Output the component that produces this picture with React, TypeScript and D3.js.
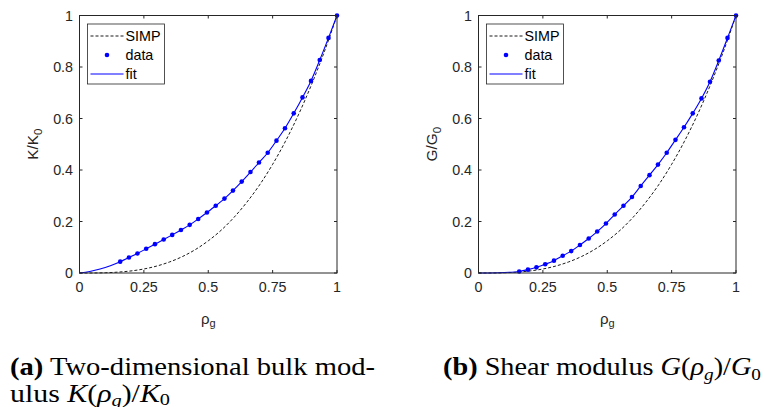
import React from 'react';
import * as d3 from 'd3';

// ---- data ----
const rhoData = [0.158, 0.192, 0.225, 0.259, 0.293, 0.327, 0.360, 0.394, 0.428, 0.461, 0.495, 0.529, 0.563,
  0.596, 0.630, 0.664, 0.697, 0.731, 0.765, 0.798, 0.832, 0.866, 0.899, 0.933, 0.967, 1.000];
const kData = [0.044, 0.060, 0.076, 0.094, 0.112, 0.130, 0.148, 0.167, 0.187, 0.210, 0.235, 0.261, 0.289,
  0.320, 0.355, 0.392, 0.429, 0.467, 0.514, 0.562, 0.620, 0.682, 0.746, 0.827, 0.913, 1.000];
const gData = [0.006, 0.013, 0.022, 0.034, 0.048, 0.067, 0.085, 0.109, 0.134, 0.161, 0.192, 0.227, 0.261,
  0.295, 0.338, 0.380, 0.421, 0.467, 0.517, 0.566, 0.620, 0.678, 0.743, 0.825, 0.913, 1.000];
const fitRhoHead = [0, 0.04, 0.08, 0.12];
const kFitHead = [0, 0.0060, 0.0155, 0.0285];
const gFitHead = [0, 0.0001, 0.0008, 0.0027];
const simpRho = [0, 0.05, 0.1, 0.15, 0.2, 0.25, 0.3, 0.35, 0.4, 0.45, 0.5, 0.55, 0.6, 0.65, 0.7, 0.75, 0.8, 0.85, 0.9, 0.95, 1];
const simpVals = [0, 0.0001, 0.001, 0.0034, 0.008, 0.0156, 0.027, 0.043, 0.064, 0.091, 0.125, 0.166, 0.216,
  0.275, 0.343, 0.422, 0.512, 0.614, 0.729, 0.857, 1];
const xTicks = [0, 0.25, 0.5, 0.75, 1];
const xTickLabels = ['0', '0.25', '0.5', '0.75', '1'];
const yTicks = [0, 0.2, 0.4, 0.6, 0.8, 1];
const yTickLabels = ['0', '0.2', '0.4', '0.6', '0.8', '1'];
const legendLabels = ['SIMP', 'data', 'fit'];

const AX = '#262626';
const BLUE = '#0000ff';
const SANS = '"Liberation Sans", Arial, Helvetica, sans-serif';
const SERIF = '"Liberation Serif", "Times New Roman", serif';

type PanelProps = { left: number; yl: string; values: number[]; fitHead: number[] };

function Panel({ left, yl, values, fitHead }: PanelProps) {
  const top = 15.5, size = 257.5;
  const x = d3.scaleLinear().domain([0, 1]).range([left, left + size]);
  const y = d3.scaleLinear().domain([0, 1]).range([top + size, top]);
  const line = d3.line<[number, number]>().x(d => x(d[0])).y(d => y(d[1])).curve(d3.curveMonotoneX);
  const simpPts = simpRho.map((r, i) => [r, simpVals[i]] as [number, number]);
  const fitPts = [...fitRhoHead.map((r, i) => [r, fitHead[i]] as [number, number]),
    ...rhoData.map((r, i) => [r, values[i]] as [number, number])];
  const tl = 3;
  const lx = left + 8, ly = top + 8.5, lw = 77, lh = 60;
  const rows = [ly + 12, ly + 31, ly + 50];
  return (
    <g>
      <path d={line(simpPts) || ''} fill="none" stroke="#000" strokeWidth={0.9} strokeDasharray="3,2" />
      <path d={line(fitPts) || ''} fill="none" stroke={BLUE} strokeWidth={1.1} />
      {rhoData.map((r, i) => <circle key={i} cx={x(r)} cy={y(values[i])} r={2.3} fill={BLUE} />)}
      <rect x={left} y={top} width={size} height={size} fill="none" stroke={AX} strokeWidth={1} />
      {xTicks.map((t, i) => (
        <g key={'x' + i}>
          <line x1={x(t)} x2={x(t)} y1={top + size} y2={top + size - tl} stroke={AX} />
          <line x1={x(t)} x2={x(t)} y1={top} y2={top + tl} stroke={AX} />
          <text x={x(t)} y={top + size + 18.5} textAnchor="middle" fontSize={14.3} fill={AX} fontFamily={SANS}>{xTickLabels[i]}</text>
        </g>
      ))}
      {yTicks.map((t, i) => (
        <g key={'y' + i}>
          <line x1={left} x2={left + tl} y1={y(t)} y2={y(t)} stroke={AX} />
          <line x1={left + size} x2={left + size - tl} y1={y(t)} y2={y(t)} stroke={AX} />
          <text x={left - 6.5} y={y(t)} dy="0.36em" textAnchor="end" fontSize={14.3} fill={AX} fontFamily={SANS}>{yTickLabels[i]}</text>
        </g>
      ))}
      {/* legend */}
      <rect x={lx} y={ly} width={lw} height={lh} fill="#fff" stroke={AX} strokeWidth={0.8} />
      <line x1={lx + 3} x2={lx + 36} y1={rows[0]} y2={rows[0]} stroke="#000" strokeWidth={0.9} strokeDasharray="3,2" />
      <circle cx={lx + 19.5} cy={rows[1]} r={2.3} fill={BLUE} />
      <line x1={lx + 3} x2={lx + 36} y1={rows[2]} y2={rows[2]} stroke={BLUE} strokeWidth={1.1} />
      {legendLabels.map((s, i) => (
        <text key={s} x={lx + 38} y={rows[i]} dy="0.36em" fontSize={14.3} fill="#000" fontFamily={SANS}>{s}</text>
      ))}
      {/* axis labels */}
      <text x={x(0.5)} y={324} textAnchor="middle" fontSize={15} fill={AX} fontFamily={SANS}>
        ρ<tspan dy={3} fontSize={11}>g</tspan>
      </text>
      <text transform={`translate(${left - 42},${top + size / 2}) rotate(-90)`} textAnchor="middle" fontSize={15.4} fill={AX} fontFamily={SANS}>
        {yl}/{yl}<tspan dy={4} fontSize={11.5}>0</tspan>
      </text>
    </g>
  );
}

export default function App() {
  return (
    <svg width={764} height={407} style={{ position: 'absolute', left: 0, top: 0, background: '#fff' }}>
      <rect x={0} y={0} width={764} height={407} fill="#fff" />
      <Panel left={79.5} yl="K" values={kData} fitHead={kFitHead} />
      <Panel left={478.5} yl="G" values={gData} fitHead={gFitHead} />
      <g fontFamily={SERIF} fill="#000" fontSize={25}>
        <text x={10} y={375} textLength={365} lengthAdjust="spacingAndGlyphs">
          <tspan fontWeight="bold">(a)</tspan>{' Two-dimensional bulk mod-'}
        </text>
        <text x={10} y={402} textLength={160} lengthAdjust="spacingAndGlyphs">
          {'ulus '}<tspan fontStyle="italic">K</tspan>(<tspan fontStyle="italic">ρ</tspan>
          <tspan fontStyle="italic" fontSize={17} dy={4}>g</tspan>
          <tspan dy={-4}>)/</tspan><tspan fontStyle="italic">K</tspan>
          <tspan fontSize={17} dy={3}>0</tspan>
        </text>
        <text x={443} y={375} textLength={318} lengthAdjust="spacingAndGlyphs">
          <tspan fontWeight="bold">(b)</tspan>{' Shear modulus '}<tspan fontStyle="italic">G</tspan>(<tspan fontStyle="italic">ρ</tspan>
          <tspan fontStyle="italic" fontSize={17} dy={5}>g</tspan>
          <tspan dy={-5}>)/</tspan><tspan fontStyle="italic">G</tspan>
          <tspan fontSize={17} dy={5}>0</tspan>
        </text>
      </g>
    </svg>
  );
}
